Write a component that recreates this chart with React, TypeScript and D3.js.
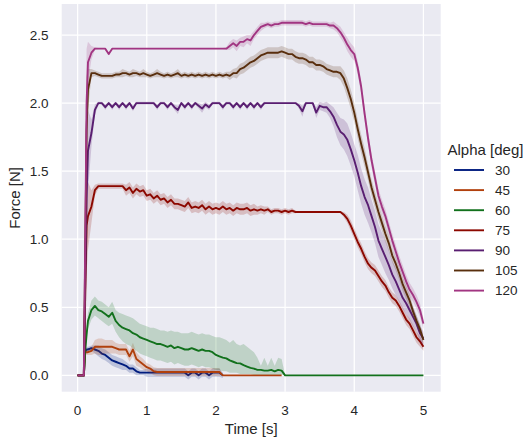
import React from "react";
import * as d3 from "d3";

// sample times [s]
const times = [
  0, 0.05, 0.09, 0.11, 0.13, 0.15,
  0.2, 0.25, 0.3, 0.35, 0.4, 0.45, 0.5, 0.55, 0.6, 0.65, 0.7, 0.75, 0.8, 0.85, 0.9, 0.95,
  1, 1.05, 1.1, 1.15, 1.2, 1.25, 1.3, 1.35, 1.4, 1.45, 1.5, 1.55, 1.6, 1.65, 1.7, 1.75, 1.8, 1.85, 1.9, 1.95,
  2, 2.05, 2.1, 2.15, 2.2, 2.25, 2.3, 2.35, 2.4, 2.45, 2.5, 2.55, 2.6, 2.65, 2.7, 2.75, 2.8, 2.85, 2.9, 2.95,
  3, 3.05, 3.1, 3.15, 3.2, 3.25, 3.3, 3.35, 3.4, 3.45, 3.5, 3.55, 3.6, 3.65, 3.7, 3.75, 3.8, 3.85, 3.9, 3.95,
  4, 4.05, 4.1, 4.15, 4.2, 4.25, 4.3, 4.35, 4.4, 4.45, 4.5, 4.55, 4.6, 4.65, 4.7, 4.75, 4.8, 4.85, 4.9, 4.95, 5,
];

const alphas = ["30", "45", "60", "75", "90", "105", "120"];
const colors = ["#001c7f", "#b1400d", "#12711c", "#8c0800", "#591e71", "#592f0d", "#a23582"];

// alpha 30 (ends at 2.1 s)
const force30 = [
  0, 0, 0, 0.17, 0.19, 0.19,
  0.20, 0.19, 0.18, 0.16, 0.15, 0.13, 0.11, 0.10, 0.09, 0.08, 0.07, 0.05, 0.05, 0.03, 0.02, 0.02,
  0.02, 0.02, 0.02, 0.02, 0.02, 0.02, 0.02, 0.02, 0.02, 0.02, 0.02, 0.02, 0, 0.02, 0.02, 0, 0.02, 0.02, 0, 0.02,
  0.02, 0.02, 0,
];
const ci30 = [
  0, 0, 0, 0.02, 0.02, 0.02,
  0.02, 0.03, 0.04, 0.04, 0.04, 0.04, 0.04, 0.04, 0.04, 0.04, 0.03, 0.03, 0.03, 0.03, 0.02, 0.02,
  0.03, 0.03, 0.03, 0.03, 0.03, 0.03, 0.03, 0.03, 0.03, 0.03, 0.03, 0.03, 0.03, 0.03, 0.03, 0.03, 0.03, 0.03, 0.03, 0.03,
  0.03, 0.03, 0.02,
];

// alpha 45 (ends at 2.95 s)
const force45 = [
  0, 0, 0, 0.17, 0.17, 0.17,
  0.18, 0.21, 0.21, 0.21, 0.21, 0.21, 0.21, 0.20, 0.19, 0.19, 0.19, 0.14, 0.19, 0.12, 0.10, 0.08,
  0.06, 0.05, 0.03, 0.025, 0.025, 0.025, 0.025, 0.025, 0.025, 0.025, 0.025, 0.025, 0.025, 0.025, 0.025, 0.025, 0.025, 0.025, 0.025, 0.025,
  0.025, 0.025, 0, 0, 0, 0, 0, 0, 0, 0, 0, 0, 0, 0, 0, 0, 0, 0, 0, 0,
];
const ci45 = [
  0, 0, 0, 0.02, 0.02, 0.02,
  0.03, 0.05, 0.06, 0.06, 0.05, 0.05, 0.05, 0.04, 0.04, 0.04, 0.04, 0.04, 0.05, 0.05, 0.04, 0.04,
  0.03, 0.03, 0.03, 0.03, 0.03, 0.03, 0.03, 0.03, 0.03, 0.03, 0.03, 0.03, 0.03, 0.03, 0.03, 0.03, 0.03, 0.03, 0.03, 0.03,
  0.03, 0.03, 0, 0, 0, 0, 0, 0, 0, 0, 0, 0, 0, 0, 0, 0, 0, 0, 0, 0,
];

// alpha 60
const force60 = [
  0, 0, 0, 0.18, 0.30, 0.40,
  0.48, 0.51, 0.48, 0.47, 0.45, 0.43, 0.46, 0.40, 0.37, 0.35, 0.34, 0.33, 0.31, 0.30, 0.28, 0.27,
  0.26, 0.25, 0.24, 0.23, 0.23, 0.22, 0.21, 0.22, 0.20, 0.21, 0.20, 0.19, 0.19, 0.20, 0.19, 0.18, 0.19, 0.18, 0.18, 0.17,
  0.15, 0.14, 0.13, 0.125, 0.11, 0.10, 0.09, 0.088, 0.075, 0.065, 0.055, 0.05, 0.04, 0.04, 0.035, 0.035, 0.04, 0.03, 0.04, 0.035,
  0, 0, 0, 0, 0, 0, 0, 0, 0, 0, 0, 0, 0, 0, 0, 0, 0, 0, 0, 0,
  0, 0, 0, 0, 0, 0, 0, 0, 0, 0, 0, 0, 0, 0, 0, 0, 0, 0, 0, 0, 0,
];
const low60 = [
  0, 0, 0, 0.15, 0.26, 0.34,
  0.41, 0.44, 0.42, 0.40, 0.38, 0.36, 0.38, 0.32, 0.28, 0.25, 0.23, 0.22, 0.20, 0.18, 0.16, 0.15,
  0.14, 0.13, 0.12, 0.11, 0.11, 0.10, 0.09, 0.10, 0.08, 0.09, 0.08, 0.07, 0.07, 0.08, 0.07, 0.06, 0.07, 0.06, 0.06, 0.05,
  0.04, 0.04, 0.03, 0.03, 0.02, 0.02, 0.02, 0.01, 0.01, 0.01, 0.01, 0.005, 0.005, 0.005, 0.005, 0.005, 0.005, 0.005, 0.005, 0.005,
  0, 0, 0, 0, 0, 0, 0, 0, 0, 0, 0, 0, 0, 0, 0, 0, 0, 0, 0, 0,
  0, 0, 0, 0, 0, 0, 0, 0, 0, 0, 0, 0, 0, 0, 0, 0, 0, 0, 0, 0, 0,
];
const high60 = [
  0, 0, 0, 0.20, 0.34, 0.46,
  0.55, 0.58, 0.55, 0.54, 0.52, 0.50, 0.54, 0.48, 0.46, 0.45, 0.44, 0.43, 0.42, 0.40, 0.38, 0.37,
  0.36, 0.35, 0.35, 0.34, 0.33, 0.33, 0.32, 0.33, 0.32, 0.32, 0.31, 0.31, 0.31, 0.32, 0.31, 0.30, 0.31, 0.30, 0.30, 0.29,
  0.28, 0.28, 0.27, 0.26, 0.24, 0.26, 0.23, 0.22, 0.23, 0.21, 0.19, 0.17, 0.13, 0.07, 0.13, 0.07, 0.13, 0.07, 0.13, 0.12,
  0, 0, 0, 0, 0, 0, 0, 0, 0, 0, 0, 0, 0, 0, 0, 0, 0, 0, 0, 0,
  0, 0, 0, 0, 0, 0, 0, 0, 0, 0, 0, 0, 0, 0, 0, 0, 0, 0, 0, 0, 0,
];

// alpha 75
const force75 = [
  0, 0, 0, 0.6, 1.1, 1.17,
  1.24, 1.36, 1.39, 1.39, 1.39, 1.39, 1.39, 1.39, 1.39, 1.39, 1.36, 1.38, 1.34, 1.37, 1.35, 1.36,
  1.32, 1.33, 1.30, 1.32, 1.29, 1.30, 1.27, 1.29, 1.26, 1.26, 1.25, 1.24, 1.27, 1.23, 1.24, 1.23, 1.25, 1.22, 1.24, 1.22,
  1.23, 1.22, 1.24, 1.22, 1.23, 1.21, 1.23, 1.22, 1.22, 1.23, 1.21, 1.22, 1.21, 1.22, 1.21, 1.22, 1.20, 1.21, 1.21, 1.20,
  1.21, 1.20, 1.21, 1.20, 1.20, 1.20, 1.20, 1.20, 1.20, 1.20, 1.20, 1.20, 1.20, 1.20, 1.20, 1.20, 1.20, 1.18, 1.15, 1.10,
  1.04, 0.98, 0.93, 0.87, 0.82, 0.79, 0.77, 0.73, 0.69, 0.66, 0.61, 0.57, 0.55, 0.51, 0.46, 0.41, 0.38, 0.33, 0.28, 0.25, 0.21,
];
const ci75 = [
  0, 0, 0, 0.5, 0.35, 0.25,
  0.12, 0.04, 0.02, 0.02, 0.02, 0.02, 0.02, 0.02, 0.02, 0.02, 0.04, 0.04, 0.04, 0.04, 0.04, 0.04,
  0.04, 0.04, 0.04, 0.04, 0.04, 0.04, 0.04, 0.04, 0.04, 0.04, 0.04, 0.04, 0.04, 0.04, 0.04, 0.04, 0.04, 0.04, 0.04, 0.04,
  0.04, 0.04, 0.04, 0.04, 0.04, 0.04, 0.04, 0.04, 0.04, 0.04, 0.04, 0.04, 0.03, 0.03, 0.03, 0.02, 0.02, 0.02, 0.02, 0.02,
  0.02, 0.02, 0.02, 0.01, 0.003, 0.003, 0.003, 0.003, 0.003, 0.003, 0.003, 0.003, 0.003, 0.003, 0.003, 0.003, 0.003, 0.02, 0.03, 0.04,
  0.04, 0.04, 0.04, 0.04, 0.04, 0.04, 0.04, 0.04, 0.04, 0.04, 0.04, 0.04, 0.04, 0.04, 0.04, 0.04, 0.04, 0.04, 0.04, 0.04, 0.03,
];

// alpha 90
const force90 = [
  0, 0, 0, 0.7, 1.3, 1.65,
  1.78, 1.95, 2.00, 2.00, 1.97, 2.00, 1.97, 2.00, 1.97, 2.00, 1.97, 2.00, 1.96, 2.00, 2.00, 2.00,
  2.00, 2.00, 2.00, 1.97, 2.00, 2.00, 1.97, 2.00, 1.97, 1.95, 2.00, 1.97, 2.00, 1.97, 2.00, 1.98, 1.96, 1.99, 1.97, 2.00,
  2.00, 2.00, 1.97, 2.00, 2.00, 1.97, 2.00, 1.97, 2.00, 1.97, 2.00, 1.97, 2.00, 1.97, 2.00, 2.00, 2.00, 2.00, 2.00, 2.00,
  2.00, 2.00, 2.00, 2.00, 1.98, 1.94, 2.00, 2.00, 2.00, 1.93, 1.98, 1.97, 1.97, 1.94, 1.90, 1.84, 1.79, 1.77, 1.73, 1.66,
  1.58, 1.49, 1.39, 1.31, 1.25, 1.17, 1.09, 0.99, 0.93, 0.87, 0.81, 0.74, 0.69, 0.63, 0.57, 0.53, 0.48, 0.43, 0.38, 0.31, 0.27,
];
const ci90 = [
  0, 0, 0, 0.6, 0.5, 0.3,
  0.1, 0.04, 0.01, 0.01, 0.02, 0.01, 0.02, 0.01, 0.02, 0.01, 0.02, 0.01, 0.02, 0.01, 0.01, 0.01,
  0.01, 0.01, 0.01, 0.02, 0.01, 0.01, 0.02, 0.01, 0.02, 0.03, 0.01, 0.02, 0.01, 0.02, 0.01, 0.02, 0.03, 0.02, 0.02, 0.01,
  0.01, 0.01, 0.02, 0.01, 0.01, 0.02, 0.01, 0.02, 0.01, 0.02, 0.01, 0.02, 0.01, 0.02, 0.01, 0.005, 0.005, 0.005, 0.005, 0.005,
  0.005, 0.005, 0.005, 0.005, 0.02, 0.04, 0.01, 0.005, 0.01, 0.04, 0.03, 0.03, 0.04, 0.05, 0.07, 0.09, 0.10, 0.11, 0.12, 0.12,
  0.12, 0.13, 0.13, 0.13, 0.13, 0.12, 0.12, 0.12, 0.12, 0.12, 0.11, 0.10, 0.10, 0.09, 0.08, 0.08, 0.07, 0.07, 0.06, 0.06, 0.05,
];

// alpha 105
const force105 = [
  0, 0, 0, 0.9, 1.8, 2.1,
  2.22, 2.22, 2.21, 2.20, 2.20, 2.20, 2.20, 2.21, 2.21, 2.22, 2.22, 2.21, 2.22, 2.22, 2.21, 2.22,
  2.21, 2.20, 2.21, 2.22, 2.21, 2.20, 2.21, 2.20, 2.21, 2.22, 2.20, 2.21, 2.20, 2.21, 2.20, 2.21, 2.20, 2.21, 2.20, 2.21,
  2.20, 2.21, 2.20, 2.21, 2.20, 2.22, 2.22, 2.25, 2.26, 2.28, 2.30, 2.31, 2.33, 2.35, 2.36, 2.37, 2.37, 2.37, 2.37, 2.38,
  2.37, 2.36, 2.36, 2.34, 2.33, 2.33, 2.32, 2.30, 2.30, 2.28, 2.28, 2.27, 2.25, 2.24, 2.23, 2.23, 2.22, 2.18, 2.11, 2.03,
  1.93, 1.81, 1.70, 1.60, 1.49, 1.38, 1.29, 1.20, 1.12, 1.04, 0.97, 0.88, 0.82, 0.75, 0.67, 0.61, 0.55, 0.47, 0.40, 0.34, 0.26,
];
const ci105 = [
  0, 0, 0, 0.6, 0.4, 0.15,
  0.03, 0.02, 0.02, 0.02, 0.02, 0.02, 0.02, 0.02, 0.02, 0.03, 0.02, 0.02, 0.03, 0.02, 0.02, 0.03,
  0.02, 0.02, 0.02, 0.03, 0.02, 0.02, 0.02, 0.02, 0.02, 0.03, 0.02, 0.02, 0.02, 0.02, 0.02, 0.02, 0.02, 0.02, 0.02, 0.02,
  0.02, 0.02, 0.02, 0.02, 0.03, 0.03, 0.04, 0.04, 0.04, 0.04, 0.04, 0.04, 0.04, 0.04, 0.04, 0.04, 0.04, 0.04, 0.04, 0.04,
  0.04, 0.04, 0.04, 0.04, 0.04, 0.04, 0.04, 0.04, 0.04, 0.04, 0.04, 0.04, 0.04, 0.04, 0.04, 0.04, 0.05, 0.06, 0.07, 0.07,
  0.07, 0.07, 0.07, 0.07, 0.06, 0.06, 0.06, 0.06, 0.06, 0.06, 0.06, 0.05, 0.05, 0.05, 0.05, 0.05, 0.05, 0.04, 0.04, 0.04, 0.03,
];

// alpha 120
const force120 = [
  0, 0, 0, 1.0, 2.0, 2.3,
  2.37, 2.40, 2.40, 2.40, 2.40, 2.36, 2.40, 2.40, 2.40, 2.40, 2.40, 2.40, 2.40, 2.40, 2.40, 2.40,
  2.40, 2.40, 2.40, 2.40, 2.40, 2.40, 2.40, 2.40, 2.40, 2.40, 2.40, 2.40, 2.40, 2.40, 2.40, 2.40, 2.40, 2.40, 2.40, 2.40,
  2.40, 2.40, 2.40, 2.40, 2.42, 2.44, 2.42, 2.45, 2.45, 2.47, 2.46, 2.50, 2.53, 2.56, 2.57, 2.58, 2.57, 2.58, 2.58, 2.59,
  2.59, 2.59, 2.59, 2.59, 2.59, 2.59, 2.58, 2.59, 2.58, 2.58, 2.58, 2.58, 2.58, 2.57, 2.57, 2.55, 2.52, 2.48, 2.43, 2.39,
  2.36, 2.26, 2.12, 1.92, 1.74, 1.58, 1.45, 1.32, 1.24, 1.17, 1.08, 0.99, 0.91, 0.83, 0.76, 0.69, 0.63, 0.59, 0.54, 0.48, 0.38,
];
const ci120 = [
  0, 0, 0, 0.6, 0.4, 0.15,
  0.05, 0.01, 0.004, 0.004, 0.004, 0.01, 0.004, 0.004, 0.004, 0.004, 0.004, 0.004, 0.004, 0.004, 0.004, 0.004,
  0.004, 0.004, 0.004, 0.004, 0.004, 0.004, 0.004, 0.004, 0.004, 0.004, 0.004, 0.004, 0.004, 0.004, 0.004, 0.004, 0.004, 0.004, 0.004, 0.004,
  0.004, 0.004, 0.004, 0.01, 0.03, 0.03, 0.04, 0.03, 0.04, 0.03, 0.04, 0.03, 0.03, 0.03, 0.02, 0.02, 0.02, 0.02, 0.02, 0.02,
  0.02, 0.02, 0.02, 0.02, 0.02, 0.02, 0.02, 0.02, 0.02, 0.02, 0.02, 0.02, 0.02, 0.02, 0.03, 0.03, 0.04, 0.04, 0.05, 0.05,
  0.05, 0.05, 0.05, 0.05, 0.05, 0.05, 0.05, 0.05, 0.05, 0.05, 0.05, 0.05, 0.05, 0.05, 0.05, 0.05, 0.05, 0.05, 0.05, 0.05, 0.04,
];

const xTicks = [0, 1, 2, 3, 4, 5];
const yTicks = [0, 0.5, 1, 1.5, 2, 2.5];

const W = 525;
const H = 443;
const left = 61.7, right = 440.7, top = 4, bottom = 391.7;
const font = "'Liberation Sans', Arial, sans-serif";
const ink = "#262626";

const withBand = (mean, ci) => ({
  mean,
  lo: mean.map((v, i) => v - ci[i]),
  hi: mean.map((v, i) => v + ci[i]),
});

export default function App() {
  const x = d3.scaleLinear().domain([-0.23, 5.25]).range([left, right]);
  const y = d3.scaleLinear().domain([-0.12, 2.728]).range([bottom, top]);

  const series = [
    withBand(force30, ci30),
    withBand(force45, ci45),
    { mean: force60, lo: low60, hi: high60 },
    withBand(force75, ci75),
    withBand(force90, ci90),
    withBand(force105, ci105),
    withBand(force120, ci120),
  ];

  const line = d3.line<number>().x((_, i) => x(times[i])).y((d) => y(d));
  const band = (s) =>
    d3
      .area<number>()
      .x((_, i) => x(times[i]))
      .y0((_, i) => y(s.lo[i]))
      .y1((_, i) => y(s.hi[i]))(s.mean);

  return (
    <svg width={W} height={H} style={{ position: "absolute", left: 0, top: 0 }} fontFamily={font}>
      <defs>
        <clipPath id="plotclip">
          <rect x={left} y={top} width={right - left} height={bottom - top} />
        </clipPath>
      </defs>
      <rect width={W} height={H} fill="#ffffff" />
      <rect x={left} y={top} width={right - left} height={bottom - top} fill="#eaeaf2" />
      {xTicks.map((t) => (
        <line key={"gx" + t} x1={x(t)} x2={x(t)} y1={top} y2={bottom} stroke="#ffffff" strokeWidth={1.25} />
      ))}
      {yTicks.map((t) => (
        <line key={"gy" + t} x1={left} x2={right} y1={y(t)} y2={y(t)} stroke="#ffffff" strokeWidth={1.25} />
      ))}
      <g clipPath="url(#plotclip)">
        {series.map((s, k) => (
          <g key={alphas[k]}>
            <path d={line(s.mean)} fill="none" stroke={colors[k]} strokeWidth={1.9} strokeLinejoin="round" />
            <path d={band(s)} fill={colors[k]} fillOpacity={0.2} stroke="none" />
          </g>
        ))}
      </g>
      {xTicks.map((t) => (
        <text key={"tx" + t} x={x(t)} y={415} textAnchor="middle" fontSize={13.5} fill={ink}>
          {t}
        </text>
      ))}
      {yTicks.map((t) => (
        <text key={"ty" + t} x={48.5} y={y(t) + 4.8} textAnchor="end" fontSize={13.5} fill={ink}>
          {t.toFixed(1)}
        </text>
      ))}
      <text x={(left + right) / 2} y={434} textAnchor="middle" fontSize={15} fill={ink}>
        Time [s]
      </text>
      <text
        transform={`translate(19.5,${(top + bottom) / 2}) rotate(-90)`}
        textAnchor="middle"
        fontSize={15}
        fill={ink}
      >
        Force [N]
      </text>
      <g>
        <text x={447.5} y={154.5} fontSize={15} fill={ink}>
          Alpha [deg]
        </text>
        {alphas.map((a, k) => (
          <g key={"lg" + a} transform={`translate(0,${170 + k * 20.1})`}>
            <line x1={454} x2={484} y1={0} y2={0} stroke={colors[k]} strokeWidth={1.9} />
            <text x={495} y={4.8} fontSize={13.5} fill={ink}>
              {a}
            </text>
          </g>
        ))}
      </g>
    </svg>
  );
}
